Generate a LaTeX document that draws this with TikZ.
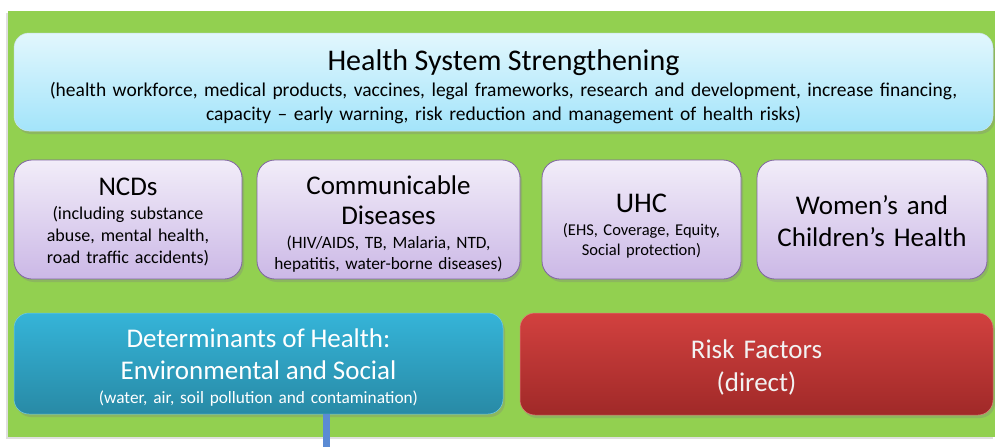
\documentclass[tikz,border=0pt]{standalone}
\usepackage{fontspec}
\setmainfont{Carlito}
\usetikzlibrary{shadows}
\definecolor{field}{RGB}{146,208,80}
\definecolor{skyTop}{RGB}{226,247,253}
\definecolor{skyBot}{RGB}{163,228,250}
\definecolor{lilacTop}{RGB}{242,237,249}
\definecolor{lilacBot}{RGB}{203,184,230}
\definecolor{lilacLine}{RGB}{128,100,162}
\definecolor{tealTop}{RGB}{53,180,216}
\definecolor{tealBot}{RGB}{40,138,166}
\definecolor{brickTop}{RGB}{210,65,63}
\definecolor{brickBot}{RGB}{160,41,40}
\definecolor{feedBlue}{RGB}{91,139,212}
\tikzset{
      backdrop/.style={fill=field, drop shadow={shadow xshift=-2pt, shadow yshift=-2pt, opacity=0.25}},
      system/.style={rounded corners=15pt, top color=skyTop, bottom color=skyBot, draw=skyBot!80!black!40, line width=0.5,
            drop shadow={shadow xshift=2pt, shadow yshift=-3pt, opacity=0.3}},
      pillar/.style={rounded corners=18pt, top color=lilacTop, bottom color=lilacBot, draw=lilacLine, line width=0.8,
            drop shadow={shadow xshift=2pt, shadow yshift=-3pt, opacity=0.3}, minimum height=119pt},
      determinant/.style={rounded corners=15pt, top color=tealTop, bottom color=tealBot, draw=tealTop!70!white, line width=0.5,
            drop shadow={shadow xshift=2pt, shadow yshift=-3pt, opacity=0.3}},
      risk/.style={rounded corners=15pt, top color=brickTop, bottom color=brickBot, draw=brickTop!70!white, line width=0.5,
            drop shadow={shadow xshift=2pt, shadow yshift=-3pt, opacity=0.3}},
      caption/.style={align=center, inner sep=0pt},
      feed/.style={draw=feedBlue, line width=7},
}

\begin{document}
\begin{tikzpicture}[x=1pt, y=-1pt]
        \useasboundingbox (0,0) rectangle (995,447);

        % Draw the green field
        \fill[backdrop] (8,11) rectangle (995,437);

        % Draw the top band
        \node[system, minimum width=979pt, minimum height=98pt,
              label={[caption, yshift=-5pt, text width=970pt, font=\fontsize{19.5}{24}\selectfont]center:
              {{\fontsize{30}{30}\selectfont Health System Strengthening}\\[2pt]
               (health workforce, medical products, vaccines, legal frameworks, research and development, increase financing,\\
               capacity – early warning, risk reduction and management of health risks)}}] (hss) at (503.5,82) {};

        % Draw the pillars
        \node[pillar, minimum width=228pt,
              label={[caption, yshift=-2.5pt, text width=224pt, font=\fontsize{18}{22}\selectfont]center:
              {{\fontsize{27}{27}\selectfont NCDs}\\[2pt]
               (including substance\\ abuse, mental health,\\ road traffic accidents)}}] (ncd) at (128,219.5) {};
        \node[pillar, minimum width=263pt,
              label={[caption, yshift=-5pt, text width=259pt, font=\fontsize{17.3}{21}\selectfont]center:
              {{\fontsize{27}{27}\selectfont Communicable}\\[9pt] {\fontsize{27}{27}\selectfont Diseases}\\[3pt]
               (HIV/AIDS, TB, Malaria, NTD,\\ hepatitis, water-borne diseases)}}] (cd) at (388.5,219.5) {};
        \node[pillar, minimum width=199pt,
              label={[caption, yshift=-7pt, text width=195pt, font=\fontsize{16.5}{20}\selectfont]center:
              {{\fontsize{28.5}{28}\selectfont UHC}\\[3pt]
               (EHS, Coverage, Equity,\\ Social protection)}}] (uhc) at (641.5,219.5) {};
        \node[pillar, minimum width=230pt,
              label={[caption, yshift=-1.5pt, text width=226pt, font=\fontsize{27}{32}\selectfont]center:
              {Women’s and\\ Children’s Health}}] (wch) at (872,219.5) {};

        % Draw the determinants and the risks
        \node[determinant, minimum width=489pt, minimum height=101pt,
              label={[caption, yshift=-4pt, text width=485pt, text=white, font=\fontsize{17.3}{24}\selectfont]center:
              {{\fontsize{27}{27}\selectfont Determinants of Health:}\\[8pt] {\fontsize{27}{27}\selectfont Environmental and Social}\\
               (water, air, soil pollution and contamination)}}] (det) at (258.5,363.5) {};
        \node[risk, minimum width=473pt, minimum height=102pt,
              label={[caption, yshift=-3pt, text width=469pt, text=white!95!black, font=\fontsize{27}{33}\selectfont]center:
              {Risk Factors\\ (direct)}}] (rf) at (756.5,364) {};

        % Draw the feed line
        \coordinate (out) at (326,447);
        \draw[feed] (det.south -| out) -- (out);

\end{tikzpicture}
\end{document}
